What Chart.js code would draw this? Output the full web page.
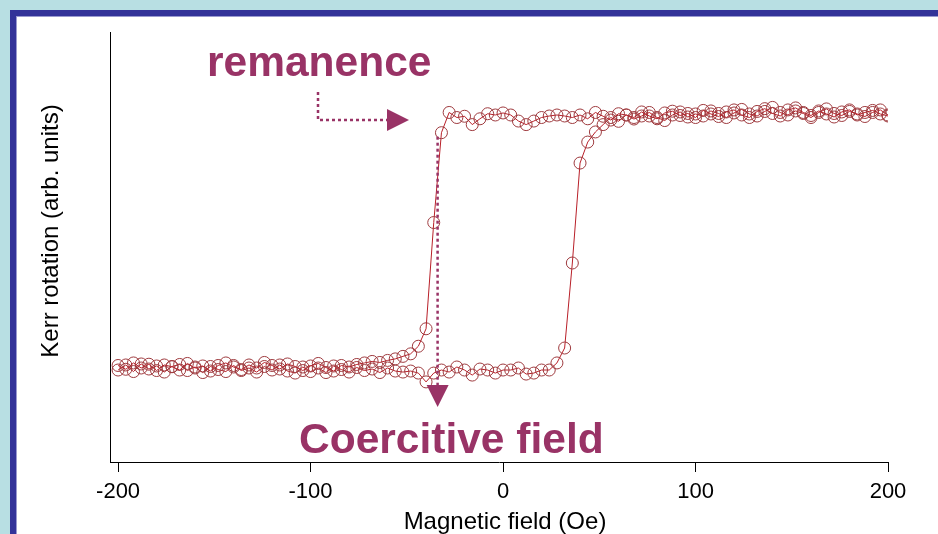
<!DOCTYPE html>
<html>
<head>
<meta charset="utf-8">
<script src="https://cdn.jsdelivr.net/npm/chart.js@4/dist/chart.umd.min.js"></script>
<style>
  html, body { margin: 0; padding: 0; }
  body { width: 938px; height: 534px; background: #b8dfe3; position: relative; overflow: hidden; }
  .cadre { position: absolute; left: 10px; top: 10px; width: 1000px; height: 600px;
           border-left: 6px solid #333399; border-top: 6px solid #333399; }
  .cadre-ic { position: absolute; left: 0; top: 0; right: 0; bottom: 0;
              border-left: 1px solid #9a9ad0; border-top: 1px solid #9a9ad0; background: #fff; }
  #grafik { position: absolute; left: 0; top: 0; }
</style>
</head>
<body>
<div class="cadre"><div class="cadre-ic"></div></div>
<canvas id="grafik" width="938" height="534"></canvas>
<script>
// alan degerleri (Oe)
const alan = [
  -200, -196, -192, -188, -184, -180, -176, -172, -168, -164, -160, -156, -152, -148, -144, -140, -136,
  -132, -128, -124, -120, -116, -112, -108, -104, -100, -96, -92, -88, -84, -80, -76, -72, -68, -64,
  -60, -56, -52, -48, -44, -40, -36, -32, -28, -24, -20, -16, -12, -8, -4, 0, 4, 8, 12, 16, 20, 24,
  28, 32, 36, 40, 44, 48, 52, 56, 60, 64, 68, 72, 76, 80, 84, 88, 92, 96, 100, 104, 108, 112, 116,
  120, 124, 128, 132, 136, 140, 144, 148, 152, 156, 160, 164, 168, 172, 176, 180, 184, 188, 192, 196, 200
];

// azalan dal (+200 -> -200), alan dizisiyle ayni sirada
const azalanDal = [
  0.010, -0.005, 0.020, 0.000, 0.015, -0.010, 0.012, 0.005, -0.008, 0.018, 0.000, 0.008, -0.012, 0.010, 0.020, 0.004, -0.006,
  0.012, 0.000, 0.022, 0.010, -0.004, 0.016, 0.006, -0.010, 0.008, 0.018, 0.002, -0.012, 0.010, 0.004, 0.014, 0.020, 0.026, 0.022,
  0.030, 0.036, 0.046, 0.056, 0.086, 0.155, 0.575, 0.930, 1.010, 0.990, 0.995, 0.962, 0.985, 1.005, 1.000, 1.008, 1.000, 0.976, 0.962, 0.976, 0.990, 0.996,
  1.000, 0.996, 0.990, 1.000, 0.985, 1.010, 0.995, 0.980, 1.005, 1.000, 0.990, 1.012, 0.996, 0.985, 1.008, 1.015, 0.998, 1.006, 0.990, 1.018, 1.004, 0.994, 1.012,
  1.020, 1.000, 0.990, 1.014, 1.025, 1.006, 0.996, 1.020, 1.028, 1.010, 0.998, 1.016, 1.004, 0.992, 1.012, 1.020, 1.000, 1.010, 1.018, 1.004, 0.996
];

// artan dal (-200 -> +200)
const artanDal = [
  -0.008, 0.012, -0.014, 0.016, -0.004, 0.008, -0.016, 0.006, 0.014, -0.010, 0.004, -0.018, 0.006, -0.006, -0.014, 0.010, -0.010,
  0.000, -0.016, 0.006, -0.008, 0.012, -0.012, -0.020, 0.004, -0.014, 0.000, -0.018, 0.008, -0.006, -0.016, 0.002, -0.010, -0.004, -0.018,
  0.000, -0.012, -0.016, -0.012, -0.020, -0.055, -0.020, -0.008, -0.016, 0.004, -0.008, -0.028, -0.004, -0.008, -0.020, -0.008, -0.008, 0.000, -0.024, -0.020, -0.008, -0.008,
  0.020, 0.079, 0.415, 0.810, 0.893, 0.933, 0.962, 0.990, 0.975, 1.000, 0.984, 0.996, 1.010, 0.990, 0.978, 1.000, 1.012, 0.992, 1.004, 0.996, 1.016, 1.006, 0.990,
  1.008, 1.022, 1.004, 0.996, 1.014, 1.030, 1.010, 1.000, 1.016, 1.006, 0.990, 1.010, 1.024, 1.006, 0.998, 1.014, 1.004, 0.994, 1.010, 1.020, 1.000
];

const xTikler = [-200, -100, 0, 100, 200];
const xTikEtiket = ["-200", "-100", "0", "100", "200"];

const yazi = "'Liberation Sans', Arial, sans-serif";
const morRenk = "#993366";

function noktalar(dal) {
  return alan.map((x, i) => ({ x: x, y: dal[i] }));
}

function dalSeti(dal) {
  return {
    data: noktalar(dal),
    borderColor: "#b81f28",
    borderWidth: 1,
    pointRadius: 6,
    pointHoverRadius: 6,
    pointBorderWidth: 1,
    pointBorderColor: "#9e3a3e",
    pointBackgroundColor: "rgba(0,0,0,0)",
    tension: 0,
    fill: false
  };
}

function okUcu(ctx, x, y, yon) {
  ctx.beginPath();
  if (yon === "sag") {
    ctx.moveTo(x, y - 11); ctx.lineTo(x + 22, y); ctx.lineTo(x, y + 11);
  } else {
    ctx.moveTo(x - 11, y); ctx.lineTo(x + 11, y); ctx.lineTo(x, y + 22);
  }
  ctx.closePath();
  ctx.fill();
}

// etiketler ve oklar
const aciklamalar = {
  id: "aciklamalar",
  afterDraw(chart) {
    const ctx = chart.ctx;
    const xs = chart.scales.x;
    const ys = chart.scales.y;
    ctx.save();

    // eksen basliklari
    ctx.fillStyle = "#000";
    ctx.font = "24px " + yazi;
    ctx.textAlign = "center";
    ctx.textBaseline = "middle";
    ctx.fillText("Magnetic field (Oe)", 505, 522);
    ctx.save();
    ctx.translate(51, 231);
    ctx.rotate(-Math.PI / 2);
    ctx.fillText("Kerr rotation (arb. units)", 0, 0);
    ctx.restore();

    ctx.fillStyle = morRenk;
    ctx.strokeStyle = morRenk;
    ctx.font = "bold 42.5px " + yazi;
    ctx.textBaseline = "alphabetic";
    ctx.textAlign = "left";
    ctx.fillText("remanence", 207, 76);
    ctx.fillText("Coercitive field", 299, 453);

    // remanence oku
    ctx.lineWidth = 2.5;
    ctx.setLineDash([3, 3]);
    ctx.beginPath();
    ctx.moveTo(318, 92);
    ctx.lineTo(318, 120);
    ctx.lineTo(387, 120);
    ctx.stroke();

    // koersif alan oku
    const xc = xs.getPixelForValue(-34);
    ctx.beginPath();
    ctx.moveTo(xc, ys.getPixelForValue(0.93) + 4);
    ctx.lineTo(xc, 386);
    ctx.stroke();
    ctx.setLineDash([]);
    okUcu(ctx, 387, 120, "sag");
    okUcu(ctx, xc, 385, "asagi");

    ctx.restore();
  }
};

new Chart(document.getElementById("grafik"), {
  type: "line",
  data: {
    datasets: [dalSeti(azalanDal), dalSeti(artanDal)]
  },
  options: {
    responsive: false,
    animation: false,
    events: [],
    layout: { padding: { left: 110, right: 50, top: 32, bottom: 0 } },
    plugins: {
      legend: { display: false },
      tooltip: { enabled: false }
    },
    scales: {
      x: {
        type: "linear",
        min: -204.2,
        max: 200,
        afterBuildTicks: (s) => { s.ticks = xTikler.map(v => ({ value: v })); },
        // eksen cizgisi y=462'de kalsin
        afterFit: (s) => { s.height = 72; },
        ticks: {
          color: "#000",
          font: { family: yazi, size: 22 },
          padding: 7,
          maxRotation: 0,
          callback: (v) => xTikEtiket[xTikler.indexOf(v)]
        },
        grid: { display: true, drawOnChartArea: false, drawTicks: true, tickLength: 10, tickColor: "#000", color: "#000" },
        border: { display: true, color: "#000", width: 1 }
      },
      y: {
        type: "linear",
        min: -0.3715,
        max: 1.328,
        ticks: { display: false },
        grid: { display: false, drawTicks: false },
        border: { display: true, color: "#000", width: 1 }
      }
    }
  },
  plugins: [aciklamalar]
});
</script>
</body>
</html>
